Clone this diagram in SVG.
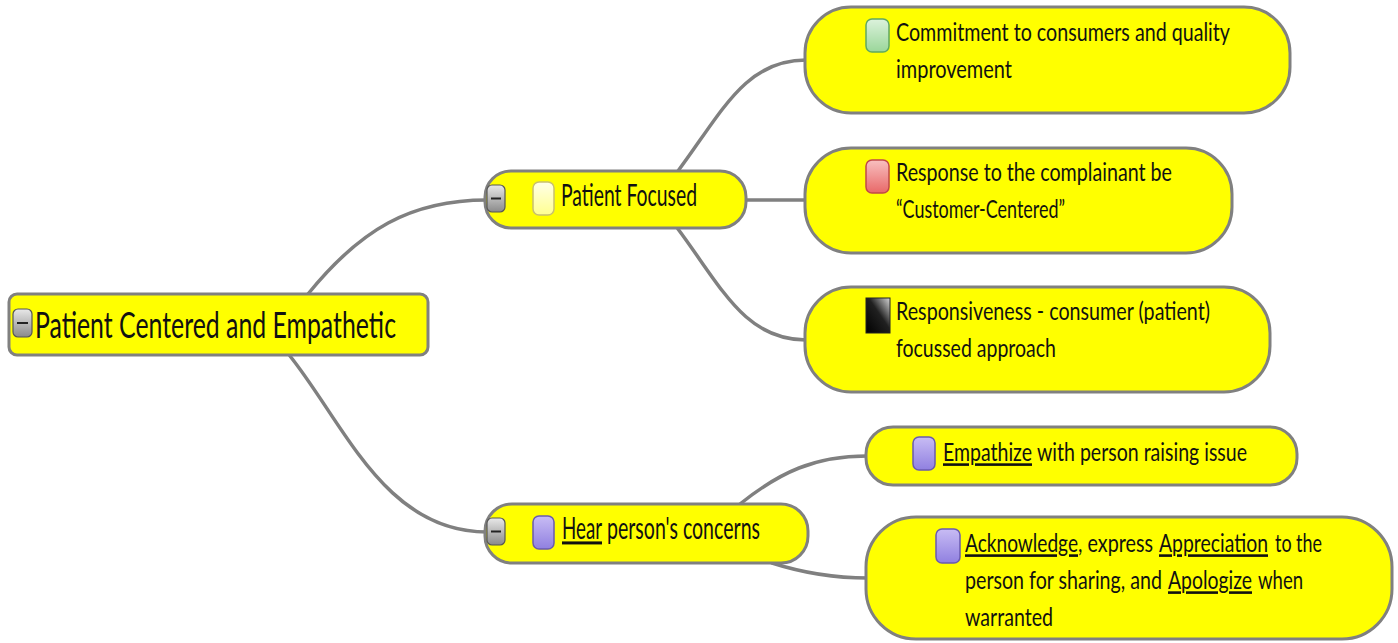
<svg xmlns="http://www.w3.org/2000/svg" width="1398" height="643" viewBox="0 0 1398 643">
<defs>
<style>
.node{fill:#ffff00;stroke:#808080;stroke-width:3}
.conn{fill:none;stroke:#808080;stroke-width:3.5;stroke-linecap:round}
.t{font-family:Lato,"Open Sans","Liberation Sans",sans-serif;fill:#111}
.t1{font-size:18.5px}
.t2{font-size:18px}
.u{text-decoration:underline}
.minus{fill:url(#gMinus);stroke:#555;stroke-width:1.2}
.dash{stroke:#222;stroke-width:2}
</style>
<linearGradient id="gMinus" x1="0" y1="0" x2="0" y2="1"><stop offset="0" stop-color="#e8e8e8"/><stop offset="1" stop-color="#8a8a8a"/></linearGradient>
<linearGradient id="gGreen" x1="0" y1="0" x2="0" y2="1"><stop offset="0" stop-color="#dcf2dc"/><stop offset="1" stop-color="#9ad69a"/></linearGradient>
<linearGradient id="gRed" x1="0" y1="0" x2="0" y2="1"><stop offset="0" stop-color="#f8c0c0"/><stop offset="1" stop-color="#e86868"/></linearGradient>
<linearGradient id="gYel" x1="0" y1="0" x2="0" y2="1"><stop offset="0" stop-color="#ffffe8"/><stop offset="1" stop-color="#ffff90"/></linearGradient>
<linearGradient id="gPur" x1="0" y1="0" x2="0" y2="1"><stop offset="0" stop-color="#c8bcf4"/><stop offset="1" stop-color="#9080e0"/></linearGradient>
<linearGradient id="gBlk" x1="1" y1="0" x2="0" y2="1"><stop offset="0" stop-color="#d8d8d8"/><stop offset="0.45" stop-color="#202020"/><stop offset="1" stop-color="#000"/></linearGradient>
</defs>
<g id="connectors">
<path class="conn" d="M308 294 C360 230 410 200 487 200"/>
<path class="conn" d="M290 356 C345 425 385 532 487 532"/>
<path class="conn" d="M678 171 C722 112 745 60 806 60"/>
<path class="conn" d="M746 200 L806 200"/>
<path class="conn" d="M678 229 C722 288 745 340 806 340"/>
<path class="conn" d="M740 504 C780 472 815 456 867 456"/>
<path class="conn" d="M772 563 C800 572 830 578 868 578"/>
</g>
<g id="root">
<rect class="node" x="9" y="294" width="419" height="61" rx="8"/>
<rect class="minus" x="13" y="309" width="19" height="28" rx="5"/>
<line class="dash" x1="17" y1="323" x2="28" y2="323"/>
<text class="t" transform="translate(35 338) scale(1 1.57)" font-size="23.5" textLength="361" lengthAdjust="spacingAndGlyphs">Patient Centered and Empathetic</text>
</g>
<g id="patient-focused">
<rect class="node" x="485" y="171" width="261" height="57" rx="26"/>
<rect class="minus" x="487" y="185" width="18" height="27" rx="5"/>
<line class="dash" x1="491" y1="198.5" x2="501" y2="198.5"/>
<rect x="533" y="182" width="21" height="33" rx="6" fill="url(#gYel)" stroke="#c8c070" stroke-width="1.5"/>
<text class="t t2" transform="translate(561 206) scale(1 1.67)" textLength="136" lengthAdjust="spacingAndGlyphs">Patient Focused</text>
</g>
<g id="commitment">
<rect class="node" x="805" y="7" width="485" height="106" rx="46"/>
<rect x="866" y="19" width="23" height="33" rx="6" fill="url(#gGreen)" stroke="#60a860" stroke-width="1.5"/>
<text class="t t1" transform="translate(896 41) scale(1 1.4)" textLength="334" lengthAdjust="spacingAndGlyphs">Commitment to consumers and quality</text>
<text class="t t1" transform="translate(896 78) scale(1 1.4)" textLength="116" lengthAdjust="spacingAndGlyphs">improvement</text>
</g>
<g id="response">
<rect class="node" x="805" y="148" width="427" height="105" rx="46"/>
<rect x="866" y="160" width="23" height="33" rx="6" fill="url(#gRed)" stroke="#c04848" stroke-width="1.5"/>
<text class="t t1" transform="translate(896 181) scale(1 1.4)" textLength="276" lengthAdjust="spacingAndGlyphs">Response to the complainant be</text>
<text class="t t1" transform="translate(896 218) scale(1 1.4)" textLength="169" lengthAdjust="spacingAndGlyphs">“Customer-Centered”</text>
</g>
<g id="responsiveness">
<rect class="node" x="805" y="287" width="465" height="105" rx="46"/>
<rect x="866" y="298" width="24" height="35" fill="url(#gBlk)" stroke="#222" stroke-width="1"/>
<text class="t t1" transform="translate(896 320) scale(1 1.4)" textLength="314" lengthAdjust="spacingAndGlyphs">Responsiveness - consumer (patient)</text>
<text class="t t1" transform="translate(896 357) scale(1 1.4)" textLength="160" lengthAdjust="spacingAndGlyphs">focussed approach</text>
</g>
<g id="hear">
<rect class="node" x="485" y="504" width="323" height="59" rx="27"/>
<rect class="minus" x="487" y="518" width="18" height="27" rx="5"/>
<line class="dash" x1="491" y1="531.5" x2="501" y2="531.5"/>
<rect x="533" y="516" width="21" height="33" rx="6" fill="url(#gPur)" stroke="#6a5ab0" stroke-width="1.5"/>
<text class="t t2 u" transform="translate(562 539) scale(1 1.67)" textLength="40" lengthAdjust="spacingAndGlyphs">Hear</text>
<text class="t t2" transform="translate(607 539) scale(1 1.67)" textLength="153" lengthAdjust="spacingAndGlyphs">person's concerns</text>
</g>
<g id="empathize">
<rect class="node" x="866" y="427" width="431" height="58" rx="27"/>
<rect x="913" y="437" width="22" height="33" rx="6" fill="url(#gPur)" stroke="#6a5ab0" stroke-width="1.5"/>
<text class="t t1 u" transform="translate(943 461) scale(1 1.4)" textLength="89" lengthAdjust="spacingAndGlyphs">Empathize</text>
<text class="t t1" transform="translate(1037 461) scale(1 1.4)" textLength="210" lengthAdjust="spacingAndGlyphs">with person raising issue</text>
</g>
<g id="acknowledge">
<rect class="node" x="866" y="517" width="526" height="122" rx="50"/>
<rect x="936" y="529" width="24" height="34" rx="6" fill="url(#gPur)" stroke="#6a5ab0" stroke-width="1.5"/>
<text class="t t1 u" transform="translate(965 552) scale(1 1.4)" textLength="113" lengthAdjust="spacingAndGlyphs">Acknowledge</text>
<text class="t t1" transform="translate(1078 552) scale(1 1.4)" textLength="75" lengthAdjust="spacingAndGlyphs">, express</text>
<text class="t t1 u" transform="translate(1159 552) scale(1 1.4)" textLength="109" lengthAdjust="spacingAndGlyphs">Appreciation</text>
<text class="t t1" transform="translate(1275 552) scale(1 1.4)" textLength="47" lengthAdjust="spacingAndGlyphs">to the</text>
<text class="t t1" transform="translate(965 589) scale(1 1.4)" textLength="197" lengthAdjust="spacingAndGlyphs">person for sharing, and</text>
<text class="t t1 u" transform="translate(1168 589) scale(1 1.4)" textLength="84" lengthAdjust="spacingAndGlyphs">Apologize</text>
<text class="t t1" transform="translate(1258 589) scale(1 1.4)" textLength="45" lengthAdjust="spacingAndGlyphs">when</text>
<text class="t t1" transform="translate(965 626) scale(1 1.4)" textLength="88" lengthAdjust="spacingAndGlyphs">warranted</text>
</g>
</svg>
